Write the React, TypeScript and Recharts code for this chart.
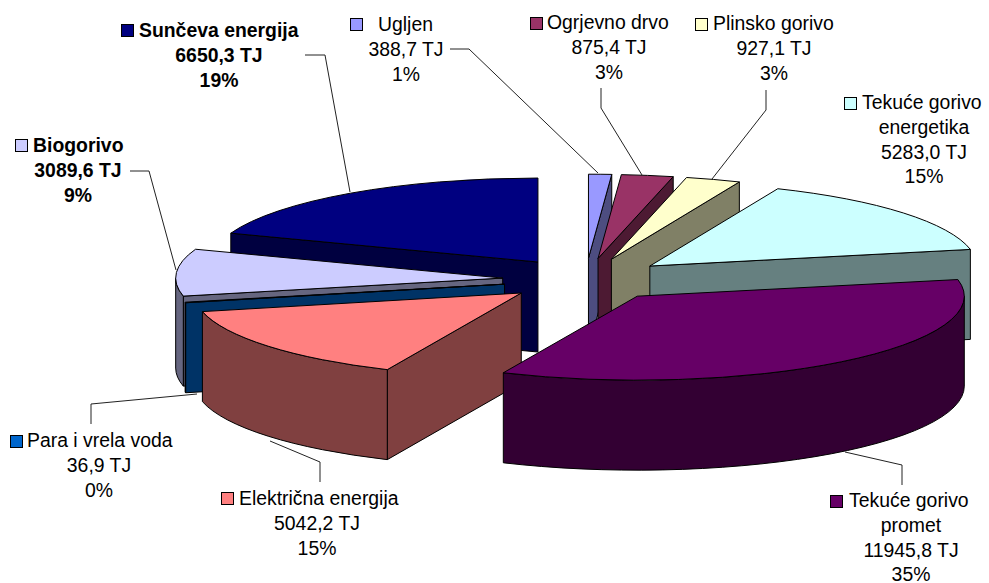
import React from 'react';
import { PieChart, Pie } from 'recharts';

// clockwise from twelve o'clock, same order as the source chart
const categories = [
  'Ugljen',
  'Ogrjevno drvo',
  'Plinsko gorivo',
  'Tekuće gorivo\nenergetika',
  'Tekuće gorivo\npromet',
  'Električna energija',
  'Para i vrela voda',
  'Biogorivo',
  'Sunčeva energija',
];
const valuesTJ = [388.7, 875.4, 927.1, 5283.0, 11945.8, 5042.2, 36.9, 3089.6, 6650.3];

const topColors = ['#9999FF', '#993366', '#FFFFCC', '#CCFFFF', '#660066', '#FF8080', '#0066CC', '#CCCCFF', '#000080'];
const sideColors = ['#4D4D80', '#4D1A33', '#808066', '#668080', '#330033', '#804040', '#003366', '#666680', '#000040'];

// back to front, so nearer slices cover the farther ones
const paintOrder = [8, 0, 1, 2, 3, 7, 6, 5, 4];

type LabelBox = {
  keyX: number; keyY: number; textX: number; centerX: number; baseline: number;
  bold?: boolean; leader?: [number, number][];
};
const labelBoxes: LabelBox[] = [
  { keyX: 350, keyY: 18, textX: 378, centerX: 406, baseline: 31, leader: [[450, 49], [469, 49], [598, 173]] },
  { keyX: 530, keyY: 17, textX: 547, centerX: 609, baseline: 29, leader: [[601, 88], [601, 108], [642, 175]] },
  { keyX: 695, keyY: 18, textX: 713, centerX: 774, baseline: 30, leader: [[766, 90], [766, 110], [712, 179]] },
  { keyX: 844, keyY: 97, textX: 862, centerX: 924, baseline: 109 },
  { keyX: 830, keyY: 495, textX: 849, centerX: 911, baseline: 507, leader: [[902, 485], [902, 465], [845, 452]] },
  { keyX: 221, keyY: 492, textX: 239, centerX: 317, baseline: 505, leader: [[320, 482], [320, 462], [270, 441]] },
  { keyX: 10, keyY: 435, textX: 27, centerX: 99, baseline: 447, leader: [[91, 424], [91, 404], [197, 394]] },
  { keyX: 15, keyY: 139, textX: 33, centerX: 78, baseline: 152, bold: true, leader: [[130, 171], [149, 171], [176, 270]] },
  { keyX: 121, keyY: 24, textX: 139, centerX: 219, baseline: 37, bold: true, leader: [[305, 55], [325, 55], [350, 192]] },
];

const chartData = categories.map((name, i) => ({ name, value: valuesTJ[i], idx: i }));

const SQUASH = 84 / 327;
const EXPLODE = 83;
const DEPTH = 90;
const LINE = 24.8;
const FONT = '"Liberation Sans", Arial, sans-serif';

const rad = (d: number) => (d * Math.PI) / 180;

const SliceShape = (layer: number) => (props: any) => {
  const idx = props.payload?.idx ?? props.idx;
  if (idx !== layer) return null;
  const { cx, cy, outerRadius: r, startAngle, endAngle } = props;
  // recharts angles run counter clockwise from east, turn them into clockwise from top
  const a0 = 90 - startAngle;
  const a1 = 90 - endAngle;
  const mid = rad((a0 + a1) / 2);
  const ax = cx + EXPLODE * Math.sin(mid);
  const ay = cy - EXPLODE * SQUASH * Math.cos(mid);
  const ry = r * SQUASH;
  const pt = (deg: number, drop = 0): [number, number] => [
    ax + r * Math.sin(rad(deg)),
    ay - ry * Math.cos(rad(deg)) + drop,
  ];
  const face = (deg: number) => {
    const [x, y] = pt(deg);
    return `M${ax},${ay} L${x},${y} L${x},${y + DEPTH} L${ax},${ay + DEPTH} Z`;
  };
  const side = sideColors[idx];
  const wallFrom = Math.max(a0, 90);
  const wallTo = Math.min(a1, 270);
  let wall = '';
  if (wallTo > wallFrom) {
    const [x0, y0] = pt(wallFrom);
    const [x1, y1] = pt(wallTo);
    const big = wallTo - wallFrom > 180 ? 1 : 0;
    wall = `M${x0},${y0} A${r},${ry} 0 ${big} 1 ${x1},${y1} L${x1},${y1 + DEPTH} A${r},${ry} 0 ${big} 0 ${x0},${y0 + DEPTH} Z`;
  }
  const [sx, sy] = pt(a0);
  const [ex, ey] = pt(a1);
  const big = a1 - a0 > 180 ? 1 : 0;
  const top = `M${ax},${ay} L${sx},${sy} A${r},${ry} 0 ${big} 1 ${ex},${ey} Z`;
  return (
    <g stroke="#000" strokeWidth={1} strokeLinejoin="round">
      {/* only the cut faces turned to the viewer */}
      {Math.sin(rad(a0)) < 0 && <path d={face(a0)} fill={side} />}
      {Math.sin(rad(a1)) > 0 && <path d={face(a1)} fill={side} />}
      {wall && <path d={wall} fill={side} />}
      <path d={top} fill={topColors[idx]} />
    </g>
  );
};

const renderLabel = (props: any) => {
  const idx = props.payload?.idx ?? props.idx ?? props.index;
  const box = labelBoxes[idx];
  const lines = categories[idx].split('\n');
  const rest = [
    ...lines.slice(1),
    valuesTJ[idx].toFixed(1).replace('.', ',') + ' TJ',
    Math.round(props.percent * 100) + '%',
  ];
  return (
    <g key={idx} fontFamily={FONT} fontSize={19.4} fill="#000" fontWeight={box.bold ? 'bold' : 'normal'}>
      {box.leader && (
        <polyline points={box.leader.map(p => p.join(',')).join(' ')} fill="none" stroke="#222" strokeWidth={1} />
      )}
      <rect x={box.keyX + 0.5} y={box.keyY + 0.5} width={12} height={12} fill={topColors[idx]} stroke="#000" strokeWidth={1} />
      <text x={box.textX} y={box.baseline} textAnchor="start">{lines[0]}</text>
      {rest.map((t, i) => (
        <text key={t} x={box.centerX} y={box.baseline + LINE * (i + 1)} textAnchor="middle">{t}</text>
      ))}
    </g>
  );
};

const pieProps = {
  data: chartData,
  dataKey: 'value',
  nameKey: 'name',
  cx: 585.5,
  cy: 279.5,
  outerRadius: 327,
  startAngle: 90,
  endAngle: -270,
  stroke: 'none',
  isAnimationActive: false,
};

export default function App() {
  return (
    <div style={{ position: 'absolute', left: 0, top: 0, width: 989, height: 583, background: '#fff' }}>
      <PieChart width={989} height={583} margin={{ top: 0, right: 0, bottom: 0, left: 0 }}>
        {paintOrder.map(layer => (
          <Pie key={layer} {...pieProps} shape={SliceShape(layer)} />
        ))}
        <Pie {...pieProps} shape={() => null} label={renderLabel} labelLine={false} />
      </PieChart>
    </div>
  );
}
